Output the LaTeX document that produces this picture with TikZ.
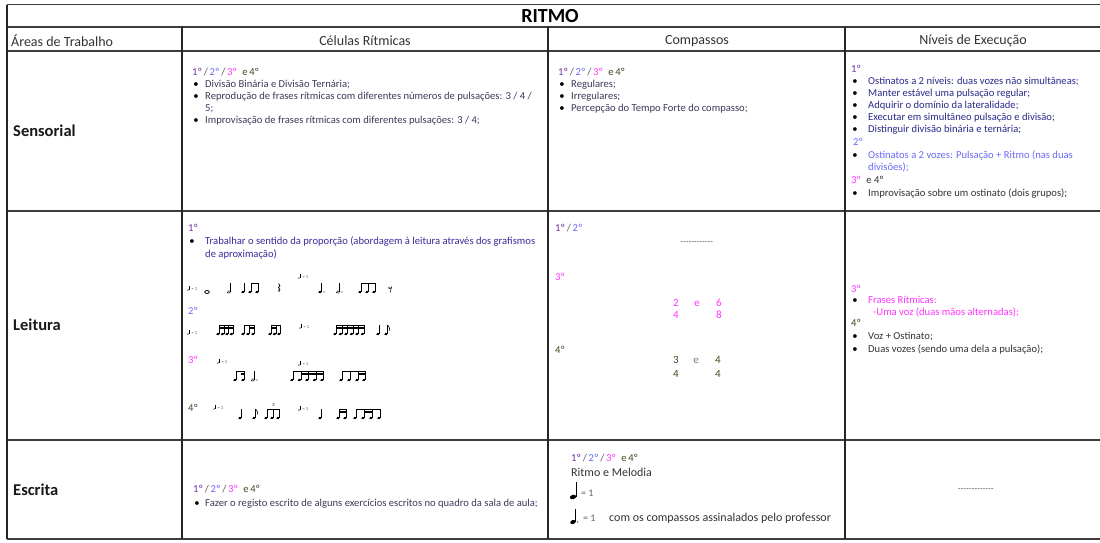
\documentclass[tikz,border=0pt]{standalone}
\usepackage{fontspec}
\setmainfont{Carlito}
\definecolor{cI}{HTML}{7030A0}
\definecolor{cII}{HTML}{6A6AF5}
\definecolor{cIII}{HTML}{FF33FF}
\definecolor{cIV}{HTML}{4A4520}
\definecolor{slashc}{HTML}{555555}
\definecolor{txtc}{HTML}{3A3A5C}
\definecolor{navyc}{HTML}{2A2A8A}
\definecolor{purpc}{HTML}{3A2A9A}
\definecolor{darkc}{HTML}{333333}
\definecolor{gridc}{HTML}{3C3C3C}
\newcommand\allg{{\color{cI}1º}\,{\color{slashc}/}\,{\color{cII}2º}\,{\color{slashc}/}\,{\color{cIII}3º}\enspace{\color{cIV}e\,4º}}
\newcommand\hy{-\kern0.3pt}
\tikzset{
  gridh/.style={line width=1.5pt, draw=gridc},
  gridv/.style={line width=1.1pt, draw=black!85},
  hdr/.style={anchor=center, font=\fontsize{14}{16}\selectfont, text=black!80, inner sep=0},
  area/.style={anchor=west, font=\fontsize{16.5}{19}\selectfont\bfseries, text=black!90, inner sep=0},
  body/.style={anchor=base west, font=\fontsize{10.6}{12}\selectfont, inner sep=0},
  bul/.style={anchor=base, font=\fontsize{10.6}{12}\selectfont, inner sep=0},
  tinyt/.style={anchor=west, font=\fontsize{4.5}{5}\selectfont, text=black!70, inner sep=0},
  stemw/.style={line width=0.45pt},
  qn/.pic={\fill[rotate=20] (0,0) ellipse [x radius=1.9, y radius=1.3]; \draw[stemw] (1.7,-0.3)--(1.7,-9);},
  hn/.pic={\draw[line width=0.5pt, rotate=20] (0,0) ellipse [x radius=1.8, y radius=1.2]; \draw[stemw] (1.7,-0.3)--(1.7,-9);},
  wn/.pic={\draw[line width=0.8pt] (0,0) ellipse [x radius=2.3, y radius=1.5];},
  ndot/.pic={\fill (4,0) circle [radius=0.55];},
  flg/.pic={\draw[line width=0.6pt] (1.7,-9) .. controls (2.4,-6.8) and (4.6,-6.3) .. (3.8,-3.4);},
  qrest/.pic={\draw[line width=0.8pt] (0.6,-8.5) -- (1.9,-6.2) -- (0.5,-4.5) -- (1.9,-2.2) .. controls (0.6,-2.6) and (0.4,-1) .. (1.2,0);},
  erest/.pic={\fill (0,-5.2) circle [radius=0.8]; \draw[line width=0.5pt] (0,-4.6) .. controls (1,-4.3) and (2,-4.8) .. (2.6,-6) -- (1.2,-0.5);},
}
% beam: y of heads, x first head, x last head, level
\newcommand\beam[4]{\fill (#2+1.5,#1-9+2.3*#4-2.3) rectangle (#3+1.95,#1-7.8+2.3*#4-2.3);}
\newcommand\tempo[2]{\pic[scale=0.45] at (#1,#2) {qn}; \node[tinyt] at (#1+3.5,#2-1.2) {= 1};}
\begin{document}
\begin{tikzpicture}[x=1pt,y=-1pt]
\useasboundingbox (0,0) rectangle (1100,542);
\fill[white] (0,0) rectangle (1100,542);
% ---------- grid
\draw[gridh] (7,4.5) -- (1100,4.5);
\draw[gridh] (7,27) -- (1100,27);
\draw[gridh] (7,51) -- (1100,51);
\draw[gridh] (7,211) -- (1100,211);
\draw[gridh] (7,440) -- (1100,440);
\draw[gridh] (7,539) -- (1100,539);
\draw[gridv] (7,4.5) -- (7,539);
\draw[gridv] (182,27) -- (182,539);
\draw[gridv] (548,27) -- (548,539);
\draw[gridv] (845,27) -- (845,539);
% ---------- headers
\node[anchor=center, font=\fontsize{20}{23}\selectfont\bfseries, inner sep=0] (title) at (550,16) {RITMO};
\node[hdr, anchor=west] (h1) at (11,41) {Áreas de Trabalho};
\node[hdr] (h2) at (365,41) {Células Rítmicas};
\node[hdr] (h3) at (697,41) {Compassos};
\node[hdr] (h4) at (973,41) {Níveis de Execução};
\node[area] (a1) at (13,131) {Sensorial};
\node[area] (a2) at (13,325) {Leitura};
\node[area] (a3) at (13,490) {Escrita};
% ---------- Sensorial / Células
\node[body] (s1) at (192,75) {\allg};
\foreach \yy/\tt in {87/{Divisão Binária e Divisão Ternária;},99/{Reprodução de frases rítmicas com diferentes números de pulsações: 3 / 4 /},123/{Improvisação de frases rítmicas com diferentes pulsações: 3 / 4;}}{
  \node[bul, text=black] at (196,\yy) {•};
  \node[body, text=txtc] at (205,\yy) {\tt};
}
\node[body, text=txtc] (s1b) at (205,111) {5;};
% ---------- Sensorial / Compassos
\node[body] (s2) at (558,75) {\allg};
\foreach \yy/\tt in {87/{Regulares;},99/{Irregulares;},111/{Percepção do Tempo Forte do compasso;}}{
  \node[bul, text=black] at (562,\yy) {•};
  \node[body, text=txtc] at (571,\yy) {\tt};
}
% ---------- Sensorial / Níveis
\node[body, text=cI] (s3) at (851,72) {1º};
\foreach \yy/\tt in {84/{Ostinatos a 2 níveis: duas vozes não simultâneas;},96/{Manter estável uma pulsação regular;},108/{Adquirir o domínio da lateralidade;},120/{Executar em simultâneo pulsação e divisão;},132/{Distinguir divisão binária e ternária;}}{
  \node[bul, text=black] at (855,\yy) {•};
  \node[body, text=navyc] at (868,\yy) {\tt};
}
\node[body, text=cII] (s3b) at (853,145) {2º};
\node[bul, text=black] at (855,158) {•};
\node[body, text=cII] at (868,158) {Ostinatos a 2 vozes: Pulsação + Ritmo (nas duas};
\node[body, text=cII] at (868,170) {divisões);};
\node[body] (s3c) at (851,183) {{\color{cIII}3º}\enspace{\color{darkc}e 4º}};
\node[bul, text=black] at (855,196) {•};
\node[body, text=darkc] at (868,196) {Improvisação sobre um ostinato (dois grupos);};
% ---------- Leitura / Células
\node[body, text=cI] (l1) at (188,231) {1º};
\node[bul, text=black] at (192,244) {•};
\node[body, text=purpc] at (205,244) {Trabalhar o sentido da proporção (abordagem à leitura através dos grafismos};
\node[body, text=purpc] at (205,257) {de aproximação)};
\node[body, text=cII] (l2) at (188,314) {2º};
\node[body, text=cIII] (l3) at (188,363) {3º};
\node[body, text=cIV] (l4) at (188,411) {4º};
% row 1 (y=292)
\tempo{188}{290}
\pic at (207,292) {wn};
\pic at (229,292) {hn};
\foreach \xx in {243,250,257} {\pic at (\xx,292) {qn};}
\beam{292}{250}{257}{1}
\pic at (278,292) {qrest};
\tempo{299}{278}
\pic at (320,292) {qn}; \pic at (320,292) {ndot};
\pic at (338,292) {hn}; \pic at (338,292) {ndot};
\foreach \xx in {360,367,374} {\pic at (\xx,292) {qn};}
\beam{292}{360}{374}{1}
\pic at (389,293) {erest};
% row 2 (y=334)
\tempo{188}{334}
\foreach \xx in {218,222.5,227,231.5} {\pic at (\xx,334) {qn};}
\beam{334}{218}{231.5}{1} \beam{334}{218}{231.5}{2}
\foreach \xx in {243,248,253} {\pic at (\xx,334) {qn};}
\beam{334}{243}{253}{1} \beam{334}{248}{253}{2}
\foreach \xx in {270,274.5,279} {\pic at (\xx,334) {qn};}
\beam{334}{270}{279}{1} \beam{334}{270}{274.5}{2}
\tempo{300}{328}
\foreach \xx in {335,340.5,346,351.5,357,362.5} {\pic at (\xx,334) {qn};}
\beam{334}{335}{362.5}{1} \beam{334}{335}{362.5}{2}
\pic at (378,334) {qn};
\pic at (386,334) {qn}; \pic at (386,334) {flg};
% row 3 (y=380)
\tempo{218}{363}
\foreach \xx in {235,243} {\pic at (\xx,380) {qn};}
\beam{380}{235}{243}{1} \beam{380}{239.5}{243}{2}
\pic at (253,380) {hn}; \pic at (253,380) {ndot};
\tempo{299}{365}
\foreach \xx in {292,299.5,307,314.5,322} {\pic at (\xx,380) {qn};}
\beam{380}{292}{322}{1} \beam{380}{299.5}{322}{2}
\foreach \xx in {341,349,357,364} {\pic at (\xx,380) {qn};}
\beam{380}{341}{364}{1} \beam{380}{357}{364}{2}
% row 4 (y=418)
\tempo{214}{409}
\pic at (240,418) {qn};
\pic at (254,418) {qn}; \pic at (254,418) {flg};
\foreach \xx in {266,272,278} {\pic at (\xx,418) {qn};}
\beam{418}{266}{278}{1}
\node[font=\fontsize{4.5}{5}\selectfont, inner sep=0] (trip) at (273.5,405) {3};
\tempo{299}{410}
\pic at (320,418) {qn};
\foreach \xx in {338,345} {\pic at (\xx,418) {qn};}
\beam{418}{338}{345}{1} \beam{418}{338}{345}{2}
\foreach \xx in {355,363,371,379} {\pic at (\xx,418) {qn};}
\beam{418}{355}{379}{1} \beam{418}{363}{371}{2}
% ---------- Leitura / Compassos
\node[body] (l5) at (555,231) {{\color{cI}1º}\,{\color{slashc}/}\,{\color{cII}2º}};
\node[anchor=center, font=\fontsize{8}{10}\selectfont, text=darkc, inner sep=0] (d1) at (697,243) {\hy\hy\hy\hy\hy\hy\hy\hy\hy\hy\hy\hy};
\node[body, text=cIII] (l6) at (555,280) {3º};
\begin{scope}[every node/.style={anchor=base, font=\fontsize{11}{13}\selectfont, inner sep=0}]
\node[text=cIII] at (676,306) {2}; \node[text=cIII] at (697,306) {e}; \node[text=cIII] at (719,306) {6};
\node[text=cIII] at (676,318) {4}; \node[text=cIII] at (719,318) {8};
\node[text=cIV] at (676,363) {3}; \node[text=cIV!70] at (696,363) {e}; \node[text=cIV] at (718,363) {4};
\node[text=cIV] at (676,377) {4}; \node[text=cIV] at (718,377) {4};
\end{scope}
\node[body, text=cIV] (l7) at (555,353) {4º};
% ---------- Leitura / Níveis
\node[body, text=cIII] (l8) at (851,292) {3º};
\node[bul, text=black] at (855,303) {•};
\node[body, text=cIII] at (868,303) {Frases Rítmicas:};
\node[body, text=cIII] at (873,315) {-Uma voz (duas mãos alternadas);};
\node[body, text=cIV] (l9) at (851,326) {4º};
\node[bul, text=black] at (855,339) {•};
\node[body, text=darkc] at (868,339) {Voz + Ostinato;};
\node[bul, text=black] at (855,352) {•};
\node[body, text=darkc] at (868,352) {Duas vozes (sendo uma dela a pulsação);};
% ---------- Escrita
\node[body] (e1) at (193,492) {\allg};
\node[bul, text=black] at (197,506) {•};
\node[body, text=txtc] at (205,506) {Fazer o registo escrito de alguns exercícios escritos no quadro da sala de aula;};
\node[body] (e2) at (571,461) {\allg};
\node[body, font=\fontsize{12}{14}\selectfont, text=darkc] (e3) at (571,476) {Ritmo e Melodia};
\pic[scale=1.7] at (573,497) {qn};
\node[body, font=\fontsize{10}{12}\selectfont, text=black!60] (e4) at (581,496) {= 1};
\pic[scale=1.5] at (573,522) {qn}; \pic[scale=1.2] at (573,522) {ndot};
\node[body, font=\fontsize{10}{12}\selectfont, text=black!60] (e5) at (583,521) {= 1};
\node[body, font=\fontsize{12}{14}\selectfont, text=darkc] (e6) at (609,521) {com os compassos assinalados pelo professor};
\node[anchor=center, font=\fontsize{8}{10}\selectfont, text=darkc, inner sep=0] (d2) at (976,490) {\hy\hy\hy\hy\hy\hy\hy\hy\hy\hy\hy\hy\hy};
\end{tikzpicture}
\end{document}
